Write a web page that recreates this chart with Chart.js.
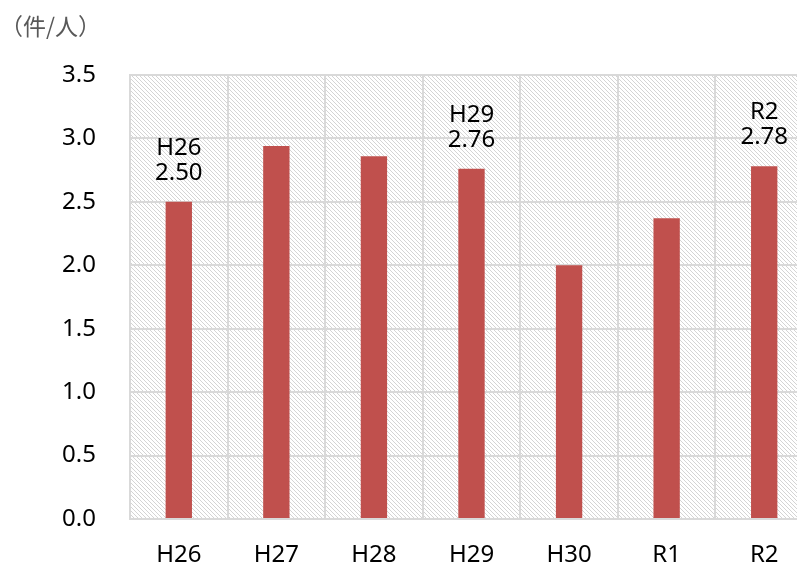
<!DOCTYPE html>
<html>
<head>
<meta charset="utf-8">
<script src="https://cdn.jsdelivr.net/npm/chart.js@4/dist/chart.umd.min.js"></script>
<style>
  html, body { margin: 0; padding: 0; background: #fff; overflow: hidden; }
  #wrap { width: 816px; height: 569px; }
</style>
</head>
<body>
<div id="wrap"><canvas id="c" width="816" height="569"></canvas></div>
<script>
// 年度別の件数（1人あたり）
const categories = ['H26', 'H27', 'H28', 'H29', 'H30', 'R1', 'R2'];
const values = [2.50, 2.94, 2.86, 2.76, 2.00, 2.37, 2.78];
const yTicks = [0.0, 0.5, 1.0, 1.5, 2.0, 2.5, 3.0, 3.5];
const unitLabel = '（件/人）';
// 値ラベルを表示する年度
const labelled = ['H26', 'H29', 'R2'];

const latinFont = '"Noto Sans", "Open Sans", sans-serif';

// 斜線のハッチング模様
function hatchPattern(ctx) {
  const t = document.createElement('canvas');
  t.width = 4; t.height = 4;
  const g = t.getContext('2d');
  g.fillStyle = '#ffffff';
  g.fillRect(0, 0, 4, 4);
  g.fillStyle = '#d4d4d4';
  for (let i = 0; i < 4; i++) g.fillRect(i, i, 1, 1);
  return ctx.createPattern(t, 'repeat');
}

const backgroundPlugin = {
  id: 'hatchBackground',
  beforeDraw(chart) {
    const { ctx, chartArea: a } = chart;
    ctx.save();
    ctx.fillStyle = hatchPattern(ctx);
    ctx.fillRect(a.left, a.top, a.right - a.left, a.bottom - a.top);
    ctx.restore();
  }
};

const textPlugin = {
  id: 'texts',
  afterDraw(chart) {
    const { ctx } = chart;
    ctx.save();
    // 単位
    ctx.fillStyle = '#595959';
    ctx.font = '23px "Noto Sans CJK JP", sans-serif';
    ctx.textAlign = 'left';
    ctx.textBaseline = 'middle';
    ctx.fillText(unitLabel, 0, 26);
    // 値ラベル（年度と値の2行）
    const meta = chart.getDatasetMeta(0);
    ctx.fillStyle = '#000000';
    ctx.font = '24px ' + latinFont;
    ctx.textAlign = 'center';
    ctx.textBaseline = 'middle';
    categories.forEach((c, i) => {
      if (!labelled.includes(c)) return;
      const bar = meta.data[i];
      const y = chart.scales.y.getPixelForValue(values[i]);
      ctx.fillText(c, bar.x, y - 54);
      ctx.fillText(values[i].toFixed(2), bar.x, y - 29);
    });
    ctx.restore();
  }
};

new Chart(document.getElementById('c'), {
  type: 'bar',
  data: {
    labels: categories,
    datasets: [{
      data: values,
      backgroundColor: '#c0504d',
      borderWidth: 0,
      barPercentage: 0.27,
      categoryPercentage: 1.0
    }]
  },
  options: {
    responsive: false,
    animation: false,
    layout: { padding: { top: 75, right: 3, bottom: 0, left: 0 } },
    plugins: { legend: { display: false }, tooltip: { enabled: false } },
    scales: {
      x: {
        grid: { color: '#d9d9d9', lineWidth: 2, drawTicks: false, offset: true },
        border: { color: '#d9d9d9', width: 2 },
        ticks: { color: '#000', font: { family: latinFont, size: 24 }, padding: 22 },
        afterFit(s) { s.height = 50; }
      },
      y: {
        min: 0, max: 3.5,
        afterBuildTicks(s) { s.ticks = yTicks.map(v => ({ value: v })); },
        grid: { color: '#d9d9d9', lineWidth: 2, drawTicks: false },
        border: { color: '#d9d9d9', width: 2 },
        ticks: {
          color: '#000',
          font: { family: latinFont, size: 24 },
          padding: 34,
          callback: v => Number(v).toFixed(1)
        },
        afterFit(s) { s.width = 130; }
      }
    }
  },
  plugins: [backgroundPlugin, textPlugin]
});
</script>
</body>
</html>
